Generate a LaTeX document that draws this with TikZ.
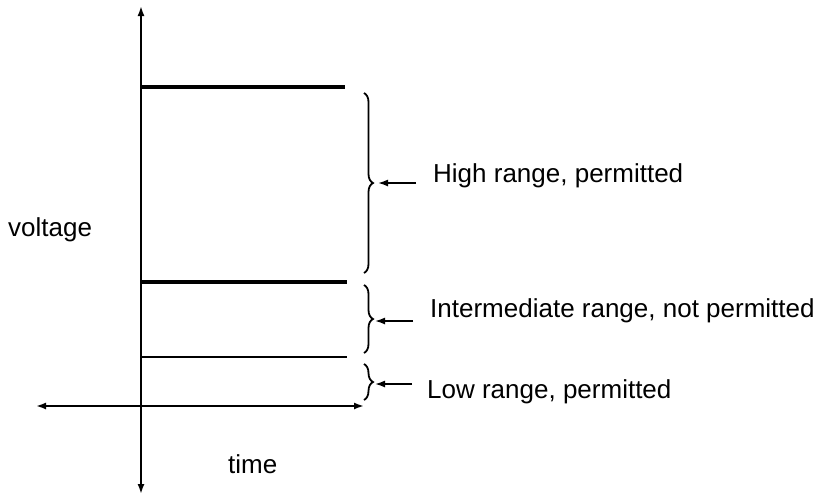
\documentclass[tikz,border=0pt]{standalone}
\usepackage{fontspec}
\setmainfont{Liberation Sans}
\usetikzlibrary{arrows.meta,decorations.pathreplacing}
\begin{document}
\begin{tikzpicture}[x=1pt,y=-1pt,
  axis/.style={line width=1.8pt,-{Latex[length=10pt,width=7pt]}},
  level/.style={line width=3.6pt},
  thinlevel/.style={line width=2.6pt},
  rbrace/.style={line width=1.8pt,decorate,decoration={brace,amplitude=9pt}},
  pointer/.style={line width=1.6pt,-{Latex[length=10pt,width=7pt]}},
  lbl/.style={anchor=base west,inner sep=0pt,font=\fontsize{26}{30}\selectfont}]
\useasboundingbox (0,0) rectangle (822,496);
% axes
\coordinate (o) at (141,406);
\coordinate (ytop) at (141,6);
\coordinate (ybot) at (141,494);
\coordinate (xleft) at (36,406);
\coordinate (xright) at (364,406);
\draw[axis] (o) -- (ytop);
\draw[axis] (o) -- (ybot);
\draw[axis] (o) -- (xleft);
\draw[axis] (o) -- (xright);
% levels
\coordinate (h1a) at (141,87);  \coordinate (h1b) at (345,87);
\coordinate (h2a) at (141,282); \coordinate (h2b) at (347,282);
\coordinate (h3a) at (141,357); \coordinate (h3b) at (347,357);
\draw[level] (h1a) -- (h1b);
\draw[level] (h2a) -- (h2b);
\draw[thinlevel] (h3a) -- (h3b);
% braces
\coordinate (b1s) at (364,93);  \coordinate (b1e) at (364,273);
\coordinate (b2s) at (364,285); \coordinate (b2e) at (364,353);
\coordinate (b3s) at (364,364); \coordinate (b3e) at (364,400);
\draw[rbrace] (b1s) -- (b1e);
\draw[rbrace] (b2s) -- (b2e);
\draw[rbrace] (b3s) -- (b3e);
% labels
\node[lbl] (high) at (433,182) {High range, permitted};
\node[lbl] (mid) at (430,317) {Intermediate range, not permitted};
\node[lbl] (low) at (427,398) {Low range, permitted};
\node[lbl] (volt) at (8,236) {voltage};
\node[lbl] (time) at (228,473) {time};
% pointers
\coordinate (p1s) at (416,183); \coordinate (p1e) at (378,183);
\coordinate (p2s) at (413,321); \coordinate (p2e) at (375,321);
\coordinate (p3s) at (412,384); \coordinate (p3e) at (375,384);
\draw[pointer] (p1s) -- (p1e);
\draw[pointer] (p2s) -- (p2e);
\draw[pointer] (p3s) -- (p3e);
\end{tikzpicture}
\end{document}
